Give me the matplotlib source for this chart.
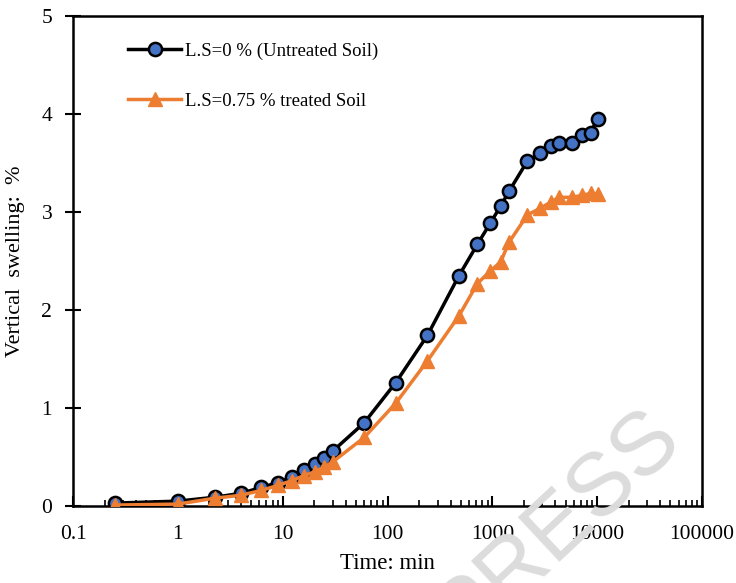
import numpy as np
import matplotlib.pyplot as plt
from matplotlib.ticker import LogLocator, FixedLocator, NullFormatter

plt.rcParams['font.family'] = ['Liberation Serif', 'DejaVu Serif']

# time (min) and vertical swelling (%)
time_min = [0.25, 1, 2.25, 4, 6.25, 9, 12.25, 16, 20.25, 25, 30, 60, 120, 240, 480,
            720, 960, 1200, 1440, 2160, 2880, 3600, 4320, 5760, 7200, 8640, 10080]
swell_untreated = [0.03, 0.05, 0.09, 0.13, 0.19, 0.24, 0.30, 0.37, 0.43, 0.49, 0.56, 0.85,
                   1.26, 1.74, 2.35, 2.67, 2.89, 3.06, 3.21, 3.52, 3.60, 3.67, 3.70,
                   3.70, 3.79, 3.81, 3.95]
swell_treated = [0.01, 0.02, 0.08, 0.11, 0.16, 0.21, 0.26, 0.31, 0.35, 0.40, 0.45, 0.70,
                 1.05, 1.48, 1.94, 2.27, 2.40, 2.49, 2.69, 2.97, 3.04, 3.10, 3.15,
                 3.15, 3.17, 3.19, 3.18]

fig = plt.figure(figsize=(7.36, 5.83), dpi=100)
ax = fig.add_axes([0.0992, 0.132, 0.8546, 0.8406])

ax.plot(time_min, swell_untreated, color='black', linewidth=2.5, marker='o',
        markersize=9.5, markerfacecolor='#4472C4', markeredgecolor='black',
        markeredgewidth=1.8, label='L.S=0 % (Untreated Soil)', zorder=3)
ax.plot(time_min, swell_treated, color='#ED7D31', linewidth=2.5, marker='^',
        markersize=10, markerfacecolor='#ED7D31', markeredgecolor='#ED7D31',
        label='L.S=0.75 % treated Soil', zorder=4)

ax.set_xscale('log')
ax.set_xlim(0.1, 100000)
ax.set_ylim(0, 5)
ax.xaxis.set_major_locator(FixedLocator([0.1, 1, 10, 100, 1000, 10000, 100000]))
ax.set_xticklabels(['0.1', '1', '10', '100', '1000', '10000', '100000'])
ax.xaxis.set_minor_locator(LogLocator(base=10, subs=np.arange(2, 10), numticks=20))
ax.xaxis.set_minor_formatter(NullFormatter())
ax.set_yticks([0, 1, 2, 3, 4, 5])

ax.tick_params(axis='x', which='major', direction='in', length=7, width=1.5,
               labelsize=15.5, pad=14)
ax.tick_params(axis='x', which='minor', direction='in', length=4, width=1.2)
ax.tick_params(axis='y', which='major', direction='inout', length=12, width=1.5,
               labelsize=15.5, pad=9)
for s in ax.spines.values():
    s.set_linewidth(1.8)

ax.set_xlabel('Time: min', fontsize=16.5, labelpad=6)
ax.set_ylabel('Vertical  swelling:  %', fontsize=16, labelpad=12)

leg = ax.legend(loc='upper left', bbox_to_anchor=(0.061, 0.98), frameon=False,
                fontsize=13.5, handlelength=2.8, handletextpad=0.25, labelspacing=1.75)

# faint watermark
fig.text(0.758, 0.098, 'PRESS', fontsize=64, color='#dcdcdc', rotation=43,
         ha='center', va='center', family='Liberation Sans', zorder=0)

fig.savefig('out.png', dpi=100)
